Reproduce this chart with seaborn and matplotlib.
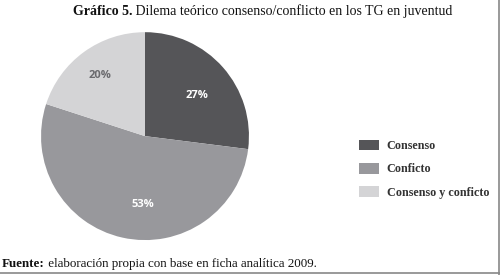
import matplotlib
matplotlib.use("Agg")
import matplotlib.pyplot as plt
import seaborn as sns
from matplotlib.lines import Line2D
from matplotlib.patches import Patch

sns.set_theme(style="white")
plt.rcParams['font.family'] = ['Liberation Serif', 'DejaVu Serif']

categories = ["Consenso", "Conficto", "Consenso y conficto"]
values = [27, 53, 20]
colors = ["#555558", "#98989c", "#d4d4d6"]
label_colors = ["white", "white", "#6a6a6e"]
title_bold = "Gráfico 5."
title_rest = " Dilema teórico consenso/conflicto en los TG en juventud"
source_bold = "Fuente:"
source_rest = " elaboración propia con base en ficha analítica 2009."
label_pos = [(0.50, 0.39), (-0.02, -0.66), (-0.43, 0.58)]

fig = plt.figure(figsize=(5, 2.75), dpi=100)
fig.patch.set_facecolor("white")
ax = fig.add_axes([0.082, 0.127, 0.416, 0.756])
wedges, texts, autotexts = ax.pie(values, colors=colors, startangle=90, counterclock=False,
                                  autopct=lambda p: f"{p:.0f}%", pctdistance=0.66,
                                  wedgeprops=dict(linewidth=0))
for t, c, p in zip(autotexts, label_colors, label_pos):
    t.set_color(c)
    t.set_fontfamily("Open Sans")
    t.set_fontweight("bold")
    t.set_fontsize(8)
    t.set_position(p)
ax.set_xlim(-1, 1)
ax.set_ylim(-1, 1)
ax.set_aspect("equal")
ax.axis("off")

handles = [Patch(facecolor=c, edgecolor="none") for c in colors]
leg = fig.legend(handles, categories, loc="upper left", bbox_to_anchor=(0.697, 0.531),
                 frameon=False, prop=dict(family="Liberation Serif", weight="bold", size=8.7),
                 handlelength=1.6, handleheight=0.95, labelspacing=0.9, handletextpad=0.65,
                 labelcolor="#333333")

fig.canvas.draw()
r = fig.canvas.get_renderer()

def two_part(x, y, bold, rest, size):
    t1 = fig.text(x, y, bold, fontsize=size, fontweight="bold", color="#111111", va="baseline")
    bb = t1.get_window_extent(r)
    x2 = bb.x1 / fig.bbox.width
    fig.text(x2, y, rest, fontsize=size, color="#111111", va="baseline")

two_part(0.146, 0.945, title_bold, title_rest, 10.0)
two_part(0.004, 0.03, source_bold, source_rest, 9.4)

fig.add_artist(Line2D([0.997, 0.997], [0.0, 1.0], transform=fig.transFigure, color="#888888", lw=1.2))
fig.add_artist(Line2D([0.0, 1.0], [0.008, 0.008], transform=fig.transFigure, color="#888888", lw=1.2))

fig.savefig("out.png", dpi=100, facecolor="white")
